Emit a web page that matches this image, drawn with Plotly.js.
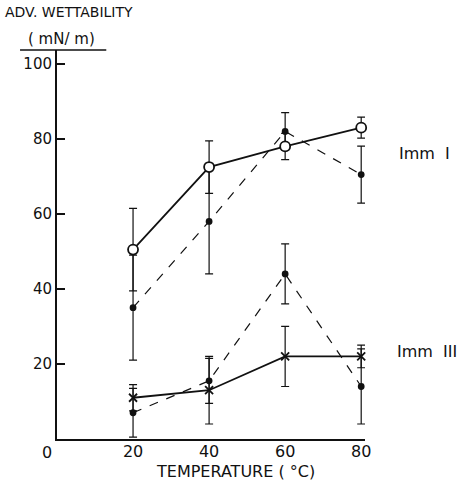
<!DOCTYPE html>
<html><head><meta charset="utf-8">
<script src="https://cdn.plot.ly/plotly-3.0.1.min.js"></script>
<style>body{margin:0;background:#fff}#c{width:468px;height:481px}</style>
</head><body><div id="c"></div>
<script>
const temps = [20, 40, 60, 80];
const immISolid = [50.5, 72.5, 78, 83];
const immISolidErr = [11, 7, 3.5, 2.8];
const immIDashed = [35, 58, 82, 70.5];
const immIDashedErr = [14, 14, 5, 7.6];
const immIIISolid = [11, 13, 22, 22];
const immIIISolidErr = [3.5, 9, 8, 3];
const immIIIDashed = [7, 15.5, 44, 14];
const immIIIDashedErr = [6.5, 6, 8, 10];
const yTicks = [20, 40, 60, 80, 100];
const xTicks = [20, 40, 60, 80];

const blk = '#111';
function tr(y, err, dash, sym, size, fill){
  return {x: temps, y: y, type:'scatter', mode:'lines+markers', cliponaxis:false,
    line:{color:blk, width: dash==='solid'?1.8:1.2, dash:dash},
    marker:{symbol:sym, size:size, color:fill, line:{color:blk, width:1.8}},
    error_y:{type:'data', array:err, visible:true, color:blk, thickness:1.2, width:4},
    showlegend:false, hoverinfo:'skip'};
}
const data = [
  tr(immIDashed, immIDashedErr, 'dash', 'circle', 5, blk),
  tr(immIIIDashed, immIIIDashedErr, 'dash', 'circle', 5, blk),
  tr(immIIISolid, immIIISolidErr, 'solid', 'x-thin-open', 8, blk),
  tr(immISolid, immISolidErr, 'solid', 'circle', 10, '#fff')
];
const f = {family:'DejaVu Sans, Arial, sans-serif', color:blk};
const layout = {
  width:468, height:481,
  margin:{l:57, r:103, t:50, b:42},
  paper_bgcolor:'#fff', plot_bgcolor:'#fff',
  xaxis:{range:[0,81], tickvals:xTicks, ticks:'', showgrid:false, zeroline:false,
    showline:true, linecolor:blk, linewidth:2, ticklabelstandoff:-3,
    tickfont:Object.assign({size:16},f)},
  yaxis:{range:[0,103.7], tickvals:yTicks, ticks:'inside', ticklen:8, tickwidth:1.5, tickcolor:blk,
    showgrid:false, zeroline:false, showline:true, linecolor:blk, linewidth:2,
    tickfont:Object.assign({size:15},f)},
  shapes:[{type:'line', xref:'paper', yref:'paper', x0:-0.12, x1:0.16, y0:1.0, y1:1.0,
    line:{color:blk, width:1.5}}],
  annotations:[
    {text:'ADV. WETTABILITY', xref:'paper', yref:'paper', x:0.04, y:1.098, showarrow:false,
     font:Object.assign({size:14},f), xanchor:'center', yanchor:'middle'},
    {text:'( mN/ m)', xref:'paper', yref:'paper', x:0.016, y:1.027, showarrow:false,
     font:Object.assign({size:15},f), xanchor:'center', yanchor:'middle'},
    {text:'0', xref:'paper', yref:'paper', x:-0.033, y:-0.005, showarrow:false,
     font:Object.assign({size:16},f), xanchor:'center', yanchor:'top'},
    {text:'TEMPERATURE ( °C)', xref:'paper', yref:'paper', x:0.578, y:-0.083, showarrow:false,
     font:Object.assign({size:16},f), xanchor:'center', yanchor:'middle'},
    {text:'Imm  I', xref:'paper', yref:'paper', x:1.105, y:0.735, showarrow:false,
     font:Object.assign({size:16},f), xanchor:'left', yanchor:'middle'},
    {text:'Imm  III', xref:'paper', yref:'paper', x:1.097, y:0.224, showarrow:false,
     font:Object.assign({size:16},f), xanchor:'left', yanchor:'middle'}
  ]
};
Plotly.newPlot('c', data, layout, {displayModeBar:false, staticPlot:true});
</script></body></html>
